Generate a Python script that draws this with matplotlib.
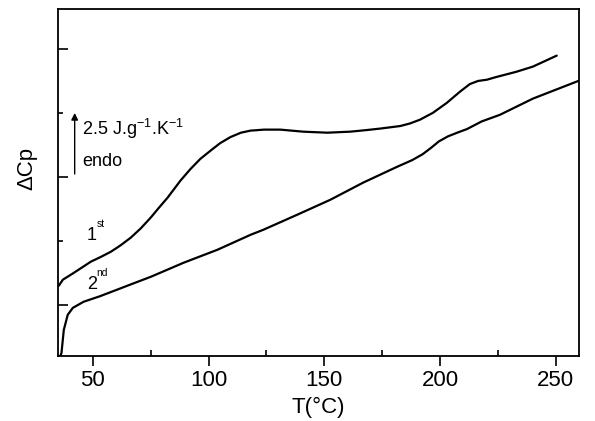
import matplotlib
matplotlib.use("Agg")
import matplotlib.pyplot as plt

plt.rcParams['font.family'] = ['Liberation Sans', 'DejaVu Sans']

# 1st heating scan (T in degC, dCp in J/g/K, arbitrary offset)
t_first = [35.3, 37.1, 41.0, 46.1, 49.1, 53.5, 57.8, 62.0, 66.4, 70.7, 75.0, 78.5,
           82.3, 87.9, 92.2, 96.5, 100.9, 105.0, 109.5, 114.0, 118.1, 124.0, 131.0,
           140.9, 151.3, 161.2, 168.0, 174.1, 182.8, 187.0, 191.4, 197.0, 203.0,
           208.6, 212.9, 216.4, 220.3, 223.7, 233.0, 240.1, 250.4]
cp_first = [0.74, 0.98, 1.20, 1.50, 1.68, 1.87, 2.07, 2.32, 2.62, 2.98, 3.40, 3.78,
            4.18, 4.85, 5.30, 5.70, 6.02, 6.31, 6.55, 6.72, 6.80, 6.84, 6.84,
            6.76, 6.72, 6.76, 6.82, 6.88, 6.98, 7.08, 7.23, 7.50, 7.89,
            8.32, 8.62, 8.74, 8.79, 8.88, 9.10, 9.30, 9.73]

# 2nd heating scan
t_second = [36.0, 36.5, 37.5, 39.2, 41.4, 46.1, 53.0, 60.8, 68.0, 75.0, 89.2, 103.9,
            118.1, 123.7, 138.4, 152.6, 166.8, 181.5, 188.0, 192.5, 196.0, 199.5,
            203.5, 208.0, 211.6, 218.0, 225.9, 240.1, 260.0]
cp_second = [-2.0, -1.88, -0.98, -0.39, -0.12, 0.12, 0.33, 0.60, 0.85, 1.09, 1.64, 2.15,
             2.73, 2.93, 3.52, 4.10, 4.77, 5.39, 5.65, 5.88, 6.12, 6.38,
             6.58, 6.74, 6.86, 7.16, 7.42, 8.05, 8.75]


def main():
    fig = plt.figure(figsize=(5.95, 4.21), dpi=100)
    ax = fig.add_axes([0.0975, 0.1544, 0.8755, 0.8242])

    ax.plot(t_first, cp_first, color='black', lw=1.6, solid_capstyle='round',
            solid_joinstyle='round')
    ax.plot(t_second, cp_second, color='black', lw=1.6, solid_capstyle='round',
            solid_joinstyle='round')

    ax.set_xlim(35, 260)
    ax.set_ylim(-2.0, 11.55)

    ax.set_xticks([50, 100, 150, 200, 250])
    ax.set_xticks([75, 125, 175, 225], minor=True)
    ax.set_yticks([0, 5, 10])
    ax.set_yticks([2.5, 7.5], minor=True)
    ax.set_yticklabels([])
    ax.tick_params(axis='x', which='major', direction='out', length=7, width=1.2,
                   labelsize=16, pad=3)
    ax.tick_params(axis='x', which='minor', direction='in', length=4, width=1.2)
    ax.tick_params(axis='y', which='major', direction='in', length=7, width=1.2)
    ax.tick_params(axis='y', which='minor', direction='in', length=3.5, width=1.2)
    for sp in ax.spines.values():
        sp.set_linewidth(1.3)

    ax.set_xlabel('T(°C)', fontsize=16, labelpad=4)
    ax.set_ylabel('ΔCp', fontsize=16)
    ax.yaxis.set_label_coords(-0.04, 0.54)

    # scale bar
    ax.annotate('', xy=(42.2, 7.6), xytext=(42.2, 5.0),
                arrowprops=dict(arrowstyle='-|>', color='black', lw=1.0,
                                mutation_scale=10))
    ax.text(45.5, 6.85, '2.5 J.g$^{\\mathregular{-1}}$.K$^{\\mathregular{-1}}$',
            fontsize=13, va='center', ha='left')
    ax.text(45.5, 5.6, 'endo', fontsize=13, va='center', ha='left')

    # scan labels
    ax.text(47.5, 2.7, '1', fontsize=13, va='center', ha='left')
    ax.text(51.6, 3.15, 'st', fontsize=7.5, va='center', ha='left')
    ax.text(47.5, 0.8, '2', fontsize=13, va='center', ha='left')
    ax.text(51.6, 1.25, 'nd', fontsize=7.5, va='center', ha='left')

    fig.savefig('out.png', dpi=100)
    plt.close(fig)


if __name__ == '__main__':
    main()
